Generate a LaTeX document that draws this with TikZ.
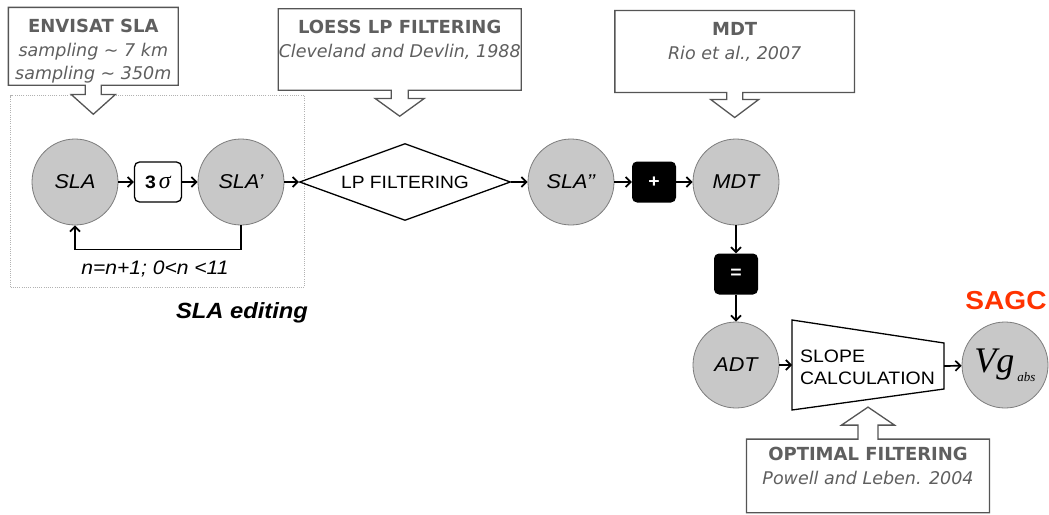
\documentclass[tikz,border=0pt]{standalone}
\usepackage{fontspec}
\usetikzlibrary{arrows.meta,calc,shapes.geometric}
\newfontfamily\arialf[FakeStretch=1.08]{Liberation Sans}
\newfontfamily\verdf{DejaVu Sans}
\newfontfamily\tmsf{Liberation Serif}
\definecolor{circF}{RGB}{200,200,200}
\definecolor{circB}{RGB}{125,125,125}
\definecolor{cgray}{RGB}{85,85,85}
\definecolor{tgray}{RGB}{95,95,95}
\definecolor{sagcred}{RGB}{255,51,0}
% callout pointing down: #1 node, #2 stem half width, #3 head half width, #4 stem length, #5 head length
\newcommand{\calloutdown}[5]{%
  \draw[cline] ($(#1.south)+(#2,0)$) -- (#1.south east) -- (#1.north east) -- (#1.north west) -- (#1.south west)
    -- ($(#1.south)+(-#2,0)$) -- ++(0,#4) -- ($(#1.south)+(-#3,#4)$) -- ($(#1.south)+(0,#4+#5)$)
    -- ($(#1.south)+(#3,#4)$) -- ($(#1.south)+(#2,#4)$) -- cycle;}
% callout pointing up
\newcommand{\calloutup}[5]{%
  \draw[cline] ($(#1.north)+(#2,0)$) -- (#1.north east) -- (#1.south east) -- (#1.south west) -- (#1.north west)
    -- ($(#1.north)+(-#2,0)$) -- ($(#1.north)+(-#2,-#4)$) -- ($(#1.north)+(-#3,-#4)$) -- ($(#1.north)+(0,-#4-#5)$)
    -- ($(#1.north)+(#3,-#4)$) -- ($(#1.north)+(#2,-#4)$) -- cycle;}
\begin{document}
\begin{tikzpicture}[x=1pt,y=-1pt,
  circ/.style={circle, draw=circB, fill=circF, line width=0.8pt, minimum size=86pt, inner sep=0pt,
    font=\arialf\itshape\fontsize{20}{20}\selectfont},
  opbox/.style={rounded corners=5pt, fill=black, minimum width=44pt, minimum height=41pt, inner sep=0pt,
    text=white, font=\arialf\bfseries\fontsize{18}{18}\selectfont},
  arr/.style={line width=1.7pt, -{Straight Barb[length=5pt,width=10pt]}},
  cbox/.style={rectangle, draw=none, inner sep=0pt},
  cline/.style={draw=cgray, fill=white, line width=1.3pt},
  ctitle/.style={anchor=base, text=tgray, font=\verdf\bfseries\fontsize{18}{18}\selectfont},
  csub/.style={anchor=base, text=tgray, font=\verdf\itshape\fontsize{17.5}{17.5}\selectfont},
  plain/.style={inner sep=0pt, font=\arialf\fontsize{18}{21.7}\selectfont}
]
\useasboundingbox (0,0) rectangle (1049,514);
\fill[white] (0,0) rectangle (1049,514);

% SLA editing frame
\node[draw=gray!60, dash pattern=on 1pt off 1.2pt, line width=0.6pt, minimum width=294pt, minimum height=191.5pt, inner sep=0pt] (editbox) at (157.5,191.25) {};

% callouts
\node[cbox, minimum width=169.5pt, minimum height=77.5pt] (env) at (93.3,46.3) {};
\calloutdown{env}{8}{22}{9.3}{19.7}
\node[ctitle] (envA) at (93.3,32.6) {ENVISAT SLA};
\node[csub] (envB) at (93.3,56.4) {sampling \textasciitilde\ 7 km};
\node[csub] (envC) at (93.3,79.4) {sampling \textasciitilde\ 350m};

\node[cbox, minimum width=242.7pt, minimum height=81pt] (loess) at (399.7,49.5) {};
\calloutdown{loess}{8.5}{24.5}{8.3}{17.7}
\node[ctitle] (loA) at (399.7,33.3) {LOESS LP FILTERING};
\node[csub] (loB) at (399.7,57.4) {Cleveland and Devlin, 1988};

\node[cbox, minimum width=239.3pt, minimum height=81.6pt] (mdtbox) at (734.7,51.5) {};
\calloutdown{mdtbox}{8}{24}{7}{18}
\node[ctitle] (mdA) at (734.7,35.9) {MDT};
\node[csub] (mdB) at (734.7,59.7) {Rio et al., 2007};

\node[cbox, minimum width=242.6pt, minimum height=73.2pt] (opt) at (868,475.9) {};
\calloutup{opt}{10}{26.5}{14}{18}
\node[ctitle] (opA) at (868,460.6) {OPTIMAL FILTERING};
\node[csub] (opB) at (868,484.7) {Powell and Leben. 2004};

% main chain
\node[circ] (SLA) at (75,182) {SLA};
\node[draw=black, line width=1.3pt, rounded corners=5pt, minimum width=47pt, minimum height=40pt, inner sep=0pt] (sig) at (158,182)
  {{\arialf\bfseries\fontsize{18}{18}\selectfont 3}\hspace{3pt}{\tmsf\itshape\fontsize{24}{24}\selectfont σ}};
\node[circ] (SLAp) at (241,182) {SLA\textquoteright};
\node[diamond, draw=black, line width=1.3pt, minimum width=211pt, minimum height=77pt, aspect=2.74, inner sep=0pt,
  font=\arialf\fontsize{17.8}{17.8}\selectfont] (LP) at (405,182) {LP FILTERING};
\node[circ] (SLApp) at (571,182) {SLA\textquoteright\textquoteright};
\node[opbox] (plus) at (654,182) {+};
\node[circ] (MDTc) at (736,182) {MDT};
\node[opbox] (eq) at (736,274) {=};
\node[circ] (ADT) at (736,365) {ADT};

% slope calculation trapezoid
\draw[line width=1.3pt] (792,320) -- (944,343) -- (944,389) -- (792,410) -- cycle;
\coordinate (tzL) at (792,365);
\coordinate (tzR) at (944,366);
\coordinate (tzB) at (868,407);
\node[plain, anchor=west, align=left] (slope) at (800,367) {SLOPE\\CALCULATION};

\node[circ] (Vg) at (1005,365)
  {{\tmsf\itshape\fontsize{36}{36}\selectfont Vg}\hspace{3pt}\raisebox{-9pt}{\tmsf\itshape\fontsize{13}{13}\selectfont abs}};

\node[anchor=base, text=sagcred, font=\arialf\bfseries\fontsize{26}{26}\selectfont] (sagc) at (1006,309.3) {SAGC};

% connectors
\draw[arr] (SLA) -- (sig);
\draw[arr] (sig) -- (SLAp);
\draw[arr] (SLAp) -- (LP.west);
\draw[arr] (SLAp.south) -- ++(0,24) -| (SLA.south);
\draw[arr] (LP.east) -- (SLApp);
\draw[arr] (SLApp) -- (plus);
\draw[arr] (plus) -- (MDTc);
\draw[arr] (MDTc) -- (eq);
\draw[arr] (eq) -- (ADT);
\draw[arr] (ADT) -- (tzL);
\draw[arr] (tzR) -- (Vg);

% labels
\node[anchor=base, inner sep=0pt, font=\arialf\itshape\fontsize{19.5}{19.5}\selectfont] (loop) at (155,274) {n=n+1; 0<n <11};
\node[anchor=base, inner sep=0pt, font=\arialf\bfseries\itshape\fontsize{22}{22}\selectfont] (edit) at (242,318) {SLA editing};
\end{tikzpicture}
\end{document}
